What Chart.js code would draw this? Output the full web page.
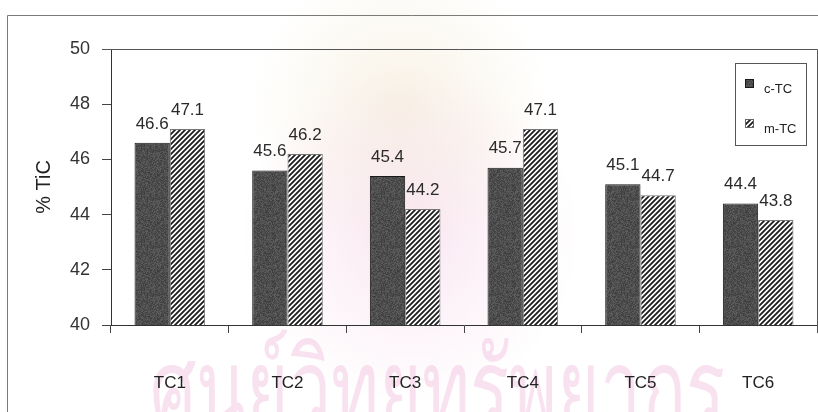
<!DOCTYPE html>
<html>
<head>
<meta charset="utf-8">
<script src="https://cdn.jsdelivr.net/npm/chart.js@4.4.1/dist/chart.umd.min.js"></script>
<style>
  html, body { margin: 0; padding: 0; background: #fff; overflow: hidden; }
  #wrap { position: relative; width: 818px; height: 412px; }
</style>
</head>
<body>
<div id="wrap"><canvas id="chart" width="818" height="412"></canvas></div>
<script>
// ---- data ----
const categories = ['TC1', 'TC2', 'TC3', 'TC4', 'TC5', 'TC6'];
const cTC = [46.6, 45.6, 45.4, 45.7, 45.1, 44.4];
const mTC = [47.1, 46.2, 44.2, 47.1, 44.7, 43.8];
const seriesNames = ['c-TC', 'm-TC'];
const yMin = 40, yMax = 50, yStep = 2;
const axisTitle = '% TiC';
const watermarkText = 'ศูนย์วิทยทรัพยากร';

const FONT = '"Liberation Sans", Arial, Helvetica, sans-serif';

// ---- fills ----
// dark, slightly grainy fill for the first series
function makeGrainPattern() {
  const s = 48;
  const cv = document.createElement('canvas');
  cv.width = s; cv.height = s;
  const g = cv.getContext('2d');
  const img = g.createImageData(s, s);
  for (let y = 0; y < s; y++) {
    for (let x = 0; x < s; x++) {
      let h = (x * 374761393 + y * 668265263) >>> 0;
      h = ((h ^ (h >>> 13)) * 1274126177) >>> 0;
      const v = 78 + ((h >>> 8) % 36) - 18;
      const i = (y * s + x) * 4;
      img.data[i] = v; img.data[i + 1] = v; img.data[i + 2] = v; img.data[i + 3] = 255;
    }
  }
  g.putImageData(img, 0, 0);
  return g.createPattern(cv, 'repeat');
}

// diagonal "/" hatching for the second series
function makeHatchPattern() {
  const p = 5;
  const cv = document.createElement('canvas');
  cv.width = p; cv.height = p;
  const g = cv.getContext('2d');
  g.fillStyle = '#ffffff';
  g.fillRect(0, 0, p, p);
  g.strokeStyle = '#1c1c1c';
  g.lineWidth = 1.8;
  g.beginPath();
  g.moveTo(-1, p + 1); g.lineTo(p + 1, -1);
  g.moveTo(-1, 1); g.lineTo(1, -1);
  g.moveTo(p - 1, p + 1); g.lineTo(p + 1, p - 1);
  g.stroke();
  return g.createPattern(cv, 'repeat');
}

const grain = makeGrainPattern();
const hatch = makeHatchPattern();

// ---- plugins ----
const pagePlugin = {
  id: 'page',
  beforeDraw(chart) {
    const ctx = chart.ctx;
    ctx.save();
    ctx.fillStyle = '#ffffff';
    ctx.fillRect(0, 0, chart.width, chart.height);

    // faint printed seal behind the plot
    const seal = ctx.createRadialGradient(400, 110, 10, 400, 110, 150);
    seal.addColorStop(0, 'rgba(240, 228, 200, 0.45)');
    seal.addColorStop(1, 'rgba(240, 228, 200, 0)');
    ctx.fillStyle = seal;
    ctx.fillRect(200, 0, 400, 280);
    const blush = ctx.createRadialGradient(410, 235, 10, 410, 235, 170);
    blush.addColorStop(0, 'rgba(246, 214, 232, 0.55)');
    blush.addColorStop(1, 'rgba(246, 214, 232, 0)');
    ctx.fillStyle = blush;
    ctx.fillRect(220, 60, 400, 340);

    // pink lettering across the bottom, squeezed to its printed width
    ctx.font = '112px "DejaVu Sans", sans-serif';
    ctx.textBaseline = 'alphabetic';
    ctx.textAlign = 'left';
    const w = ctx.measureText(watermarkText).width;
    ctx.translate(150, 428);
    ctx.scale(575 / w, 1);
    ctx.fillStyle = 'rgba(236, 170, 210, 0.34)';
    ctx.fillText(watermarkText, 0, 0);
    ctx.setTransform(1, 0, 0, 1, 0, 0);

    // outer frame
    ctx.strokeStyle = '#7a7a7a';
    ctx.lineWidth = 1;
    ctx.beginPath();
    ctx.moveTo(7.5, chart.height);
    ctx.lineTo(7.5, 15.5);
    ctx.lineTo(chart.width, 15.5);
    ctx.stroke();
    ctx.restore();
  },
  beforeDatasetsDraw(chart) {
    const { ctx, chartArea: a } = chart;
    ctx.save();
    ctx.strokeStyle = '#555';
    ctx.lineWidth = 1;
    ctx.beginPath();
    ctx.moveTo(a.left - 9, Math.round(a.top) + 0.5);
    ctx.lineTo(Math.round(a.right) + 0.5, Math.round(a.top) + 0.5);
    ctx.lineTo(Math.round(a.right) + 0.5, a.bottom + 8);
    ctx.stroke();
    ctx.restore();
  },
  afterDatasetsDraw(chart) {
    const ctx = chart.ctx;
    ctx.save();
    ctx.font = '17px ' + FONT;
    ctx.fillStyle = '#2a2a2a';
    ctx.textAlign = 'center';
    ctx.textBaseline = 'middle';
    chart.data.datasets.forEach((ds, di) => {
      chart.getDatasetMeta(di).data.forEach((bar, i) => {
        ctx.fillText(ds.data[i].toFixed(1), bar.x, bar.y - 19);
      });
    });
    ctx.restore();
  },
  afterDraw(chart) {
    const ctx = chart.ctx;
    ctx.save();
    // legend box
    ctx.fillStyle = '#fff';
    ctx.fillRect(735, 63, 71, 82);
    ctx.strokeStyle = '#555';
    ctx.lineWidth = 1;
    ctx.strokeRect(735.5, 63.5, 71, 82);
    const rows = [84, 124];
    ctx.font = '13px ' + FONT;
    ctx.textBaseline = 'middle';
    ctx.textAlign = 'left';
    chart.data.datasets.forEach((ds, di) => {
      const y = rows[di];
      ctx.fillStyle = ds.backgroundColor;
      ctx.fillRect(745, y - 5, 9, 9);
      ctx.strokeStyle = di === 0 ? '#1a1a1a' : '#666';
      ctx.strokeRect(745.5, y - 4.5, 8, 8);
      ctx.fillStyle = '#222';
      ctx.fillText(ds.label, 764, y + 5);
    });
    ctx.restore();
  }
};

new Chart(document.getElementById('chart'), {
  type: 'bar',
  data: {
    labels: categories,
    datasets: [
      { label: seriesNames[0], data: cTC, backgroundColor: grain, borderColor: '#1a1a1a', borderWidth: 1 },
      { label: seriesNames[1], data: mTC, backgroundColor: hatch, borderColor: '#777', borderWidth: 1 }
    ]
  },
  options: {
    responsive: false,
    animation: false,
    events: [],
    layout: { padding: { top: 49, right: 1, left: 0, bottom: 0 } },
    datasets: { bar: { categoryPercentage: 0.6, barPercentage: 1.0 } },
    plugins: { legend: { display: false }, tooltip: { enabled: false } },
    scales: {
      x: {
        offset: true,
        grid: { display: true, offset: true, drawOnChartArea: false, drawTicks: true, tickLength: 8, color: '#444' },
        border: { display: true, color: '#333', width: 1 },
        ticks: { font: { family: FONT, size: 17 }, color: '#222', padding: 40 },
        afterFit(scale) { scale.height = 87; }
      },
      y: {
        min: yMin, max: yMax,
        grid: { display: true, drawOnChartArea: false, drawTicks: true, tickLength: 9, color: '#444' },
        border: { display: true, color: '#333', width: 1 },
        ticks: { stepSize: yStep, font: { family: FONT, size: 18 }, color: '#333', padding: 12 },
        title: { display: true, text: axisTitle, font: { family: FONT, size: 20 }, color: '#222', padding: { top: 32, bottom: 0 } },
        afterFit(scale) { scale.width = 111; }
      }
    }
  },
  plugins: [pagePlugin]
});
</script>
</body>
</html>
